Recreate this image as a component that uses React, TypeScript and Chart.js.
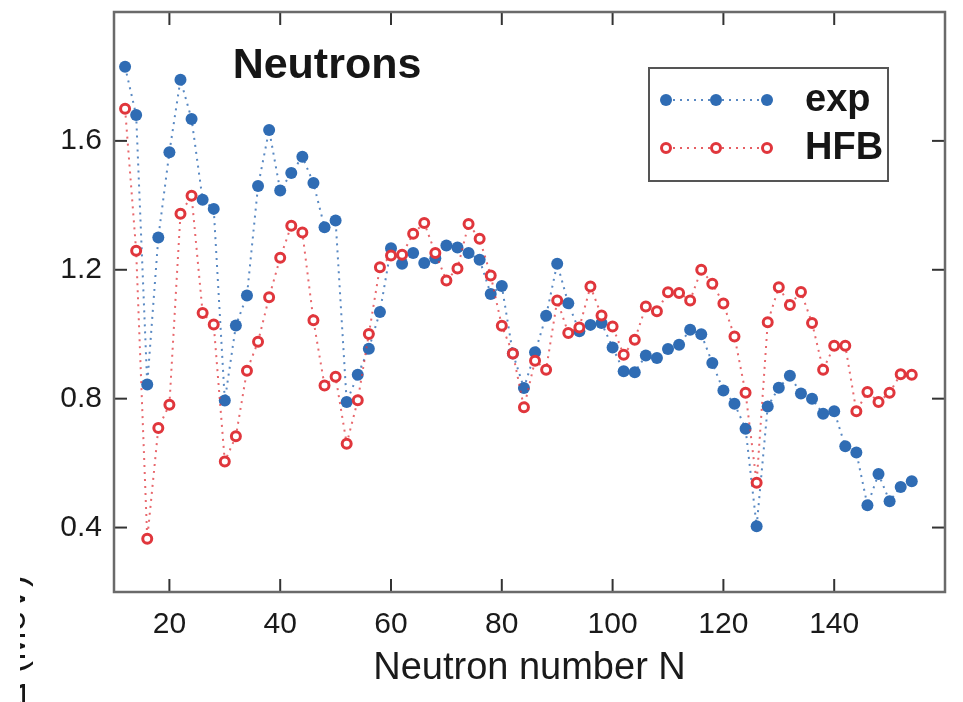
import { useEffect, useRef } from 'react';
import { Chart, registerables } from 'chart.js';

Chart.register(...registerables);

// Neutron number N of each nucleus
const neutronNumbers = [
  12, 14, 16, 18, 20, 22, 24, 26, 28, 30, 32, 34, 36, 38, 40, 42, 44, 46,
  48, 50, 52, 54, 56, 58, 60, 62, 64, 66, 68, 70, 72, 74, 76, 78, 80, 82,
  84, 86, 88, 90, 92, 94, 96, 98, 100, 102, 104, 106, 108, 110, 112, 114, 116, 118,
  120, 122, 124, 126, 128, 130, 132, 134, 136, 138, 140, 142, 144, 146, 148, 150, 152, 154,
];

// Experimental neutron gaps (MeV)
const expGaps = [
  1.83, 1.68, 0.844, 1.30, 1.565, 1.79, 1.668, 1.417, 1.389, 0.794, 1.027, 1.12, 1.46, 1.634, 1.446, 1.50, 1.551, 1.469,
  1.332, 1.353, 0.79, 0.874, 0.955, 1.069, 1.267, 1.219, 1.252, 1.221, 1.236, 1.275, 1.269, 1.252, 1.231, 1.125, 1.15, 0.94,
  0.833, 0.944, 1.057, 1.219, 1.096, 1.009, 1.029, 1.035, 0.959, 0.885, 0.882, 0.934, 0.926, 0.954, 0.967, 1.014, 1.0, 0.911,
  0.825, 0.784, 0.707, 0.404, 0.776, 0.834, 0.871, 0.816, 0.80, 0.753, 0.761, 0.652, 0.633, 0.469, 0.566, 0.482, 0.526, 0.544,
];

// HFB neutron gaps (MeV)
const hfbGaps = [
  1.70, 1.259, 0.365, 0.709, 0.781, 1.374, 1.43, 1.066, 1.03, 0.605, 0.683, 0.887, 0.977, 1.115, 1.237, 1.337, 1.316, 1.043,
  0.841, 0.868, 0.66, 0.795, 1.001, 1.208, 1.244, 1.247, 1.312, 1.345, 1.252, 1.167, 1.204, 1.342, 1.296, 1.182, 1.026, 0.94,
  0.773, 0.918, 0.89, 1.105, 1.004, 1.021, 1.148, 1.058, 1.024, 0.936, 0.983, 1.086, 1.071, 1.13, 1.128, 1.105, 1.20, 1.157,
  1.095, 0.993, 0.818, 0.539, 1.037, 1.146, 1.091, 1.131, 1.035, 0.89, 0.964, 0.964, 0.761, 0.821, 0.79, 0.818, 0.876, 0.874,
];

const xTickLabels = [20, 40, 60, 80, 100, 120, 140];
const yTickLabels = [0.4, 0.8, 1.2, 1.6];
const seriesNames = ['exp', 'HFB'];

const BLUE = '#2f6cb4';
const RED = '#e0363c';
const FONT = '"Liberation Sans", Arial, Helvetica, sans-serif';

const near = (a: number, b: number) => Math.abs(a - b) < 1e-6;

// Box frame with inward tick marks on all four sides
const frameTicks = {
  id: 'frameTicks',
  afterDatasetsDraw(chart: any) {
    const { ctx, chartArea: a, scales } = chart;
    const xs = scales.x;
    const ys = scales.y;
    ctx.save();
    ctx.strokeStyle = '#333';
    ctx.lineWidth = 2;
    const seg = (x1: number, y1: number, x2: number, y2: number) => {
      ctx.beginPath();
      ctx.moveTo(x1, y1);
      ctx.lineTo(x2, y2);
      ctx.stroke();
    };
    for (const t of xs.ticks) {
      if (t.value <= xs.min || t.value >= xs.max) continue;
      const px = xs.getPixelForValue(t.value);
      const len = Math.round(t.value) % 20 === 0 ? 13 : 7;
      seg(px, a.bottom, px, a.bottom - len);
      seg(px, a.top, px, a.top + len);
    }
    for (const t of ys.ticks) {
      if (t.value <= ys.min + 1e-6 || t.value >= ys.max - 1e-6) continue;
      const py = ys.getPixelForValue(t.value);
      const len = Math.round(t.value * 10) % 2 === 0 ? 13 : 7;
      seg(a.left, py, a.left + len, py);
      seg(a.right, py, a.right - len, py);
    }
    ctx.strokeStyle = '#6a6a6a';
    ctx.lineWidth = 2.5;
    ctx.strokeRect(a.left, a.top, a.right - a.left, a.bottom - a.top);
    ctx.restore();
  },
};

// Panel title, legend box and the y-axis title
const annotations = {
  id: 'annotations',
  afterDraw(chart: any) {
    const { ctx } = chart;
    ctx.save();

    ctx.fillStyle = '#161616';
    ctx.font = `bold 43px ${FONT}`;
    ctx.textAlign = 'center';
    ctx.textBaseline = 'alphabetic';
    ctx.fillText('Neutrons', 327, 78);

    // legend
    ctx.strokeStyle = '#555';
    ctx.lineWidth = 2;
    ctx.strokeRect(649, 68, 239, 113);
    const rows = [
      { y: 100, color: BLUE, filled: true, name: seriesNames[0] },
      { y: 148, color: RED, filled: false, name: seriesNames[1] },
    ];
    for (const r of rows) {
      ctx.save();
      ctx.strokeStyle = r.color;
      ctx.globalAlpha = 0.8;
      ctx.lineWidth = 2;
      ctx.setLineDash([2, 5]);
      ctx.beginPath();
      ctx.moveTo(666, r.y);
      ctx.lineTo(767, r.y);
      ctx.stroke();
      ctx.restore();
      for (const mx of [666, 716, 767]) {
        ctx.beginPath();
        if (r.filled) {
          ctx.arc(mx, r.y, 6, 0, Math.PI * 2);
          ctx.fillStyle = r.color;
          ctx.fill();
        } else {
          ctx.arc(mx, r.y, 4.5, 0, Math.PI * 2);
          ctx.fillStyle = '#fff';
          ctx.fill();
          ctx.strokeStyle = r.color;
          ctx.lineWidth = 3;
          ctx.stroke();
        }
      }
      ctx.fillStyle = '#161616';
      ctx.font = `bold 38px ${FONT}`;
      ctx.textAlign = 'left';
      ctx.textBaseline = 'middle';
      ctx.fillText(r.name, 805, r.y + 1);
    }

    // y-axis title, running off the left edge
    ctx.save();
    ctx.beginPath();
    ctx.rect(20, 0, 100, chart.height);
    ctx.clip();
    ctx.translate(25, 575);
    ctx.rotate(-Math.PI / 2);
    ctx.fillStyle = '#161616';
    ctx.font = `36px ${FONT}`;
    ctx.textAlign = 'right';
    ctx.textBaseline = 'alphabetic';
    ctx.fillText('Δ (MeV)', 0, 0);
    ctx.restore();

    ctx.restore();
  },
};

export default function App() {
  const canvasRef = useRef<HTMLCanvasElement | null>(null);

  useEffect(() => {
    const canvas = canvasRef.current;
    if (!canvas) return;
    const chart = new Chart(canvas, {
      type: 'line',
      data: {
        datasets: [
          {
            label: seriesNames[1],
            data: neutronNumbers.map((n, i) => ({ x: n, y: hfbGaps[i] })),
            borderColor: 'rgba(224,54,60,0.75)',
            borderWidth: 2,
            borderDash: [2, 5],
            pointRadius: 4.5,
            pointBorderWidth: 3,
            pointBackgroundColor: '#fff',
            pointBorderColor: RED,
            tension: 0,
            order: 0,
          },
          {
            label: seriesNames[0],
            data: neutronNumbers.map((n, i) => ({ x: n, y: expGaps[i] })),
            borderColor: 'rgba(47,108,180,0.8)',
            borderWidth: 2,
            borderDash: [2, 5],
            pointRadius: 6,
            pointBorderWidth: 0,
            pointBackgroundColor: BLUE,
            pointBorderColor: BLUE,
            tension: 0,
            order: 1,
          },
        ],
      },
      options: {
        animation: false,
        responsive: false,
        layout: { padding: { left: 0, right: 18, top: 12, bottom: 0 } },
        plugins: { legend: { display: false }, tooltip: { enabled: false } },
        scales: {
          x: {
            type: 'linear',
            min: 10,
            max: 160,
            grid: { display: false, drawTicks: false },
            border: { display: false },
            ticks: {
              stepSize: 10,
              autoSkip: false,
              maxRotation: 0,
              padding: 15,
              color: '#1a1a1a',
              font: { family: FONT, size: 30 },
              callback: (v: any) => (xTickLabels.some((t) => near(t, Number(v))) ? String(v) : null),
            },
            title: {
              display: true,
              text: 'Neutron number N',
              color: '#1a1a1a',
              font: { family: FONT, size: 38 },
              padding: { top: 0, bottom: 11 },
            },
            afterFit: (s: any) => {
              s.height = 110;
              s.paddingLeft = 0;
              s.paddingRight = 0;
            },
          },
          y: {
            type: 'linear',
            min: 0.2,
            max: 2.0,
            grid: { display: false, drawTicks: false },
            border: { display: false },
            ticks: {
              stepSize: 0.1,
              autoSkip: false,
              padding: 12,
              color: '#1a1a1a',
              font: { family: FONT, size: 30 },
              callback: (v: any) => {
                const hit = yTickLabels.find((t) => near(t, Number(v)));
                return hit !== undefined ? hit.toFixed(1) : null;
              },
            },
            afterFit: (s: any) => {
              s.width = 114;
              s.paddingTop = 0;
              s.paddingBottom = 0;
            },
          },
        },
      },
      plugins: [frameTicks, annotations],
    });
    return () => chart.destroy();
  }, []);

  return (
    <div style={{ position: 'fixed', left: 0, top: 0, width: 963, height: 702, background: '#fff' }}>
      <canvas ref={canvasRef} width={963} height={702} style={{ display: 'block' }} />
    </div>
  );
}
